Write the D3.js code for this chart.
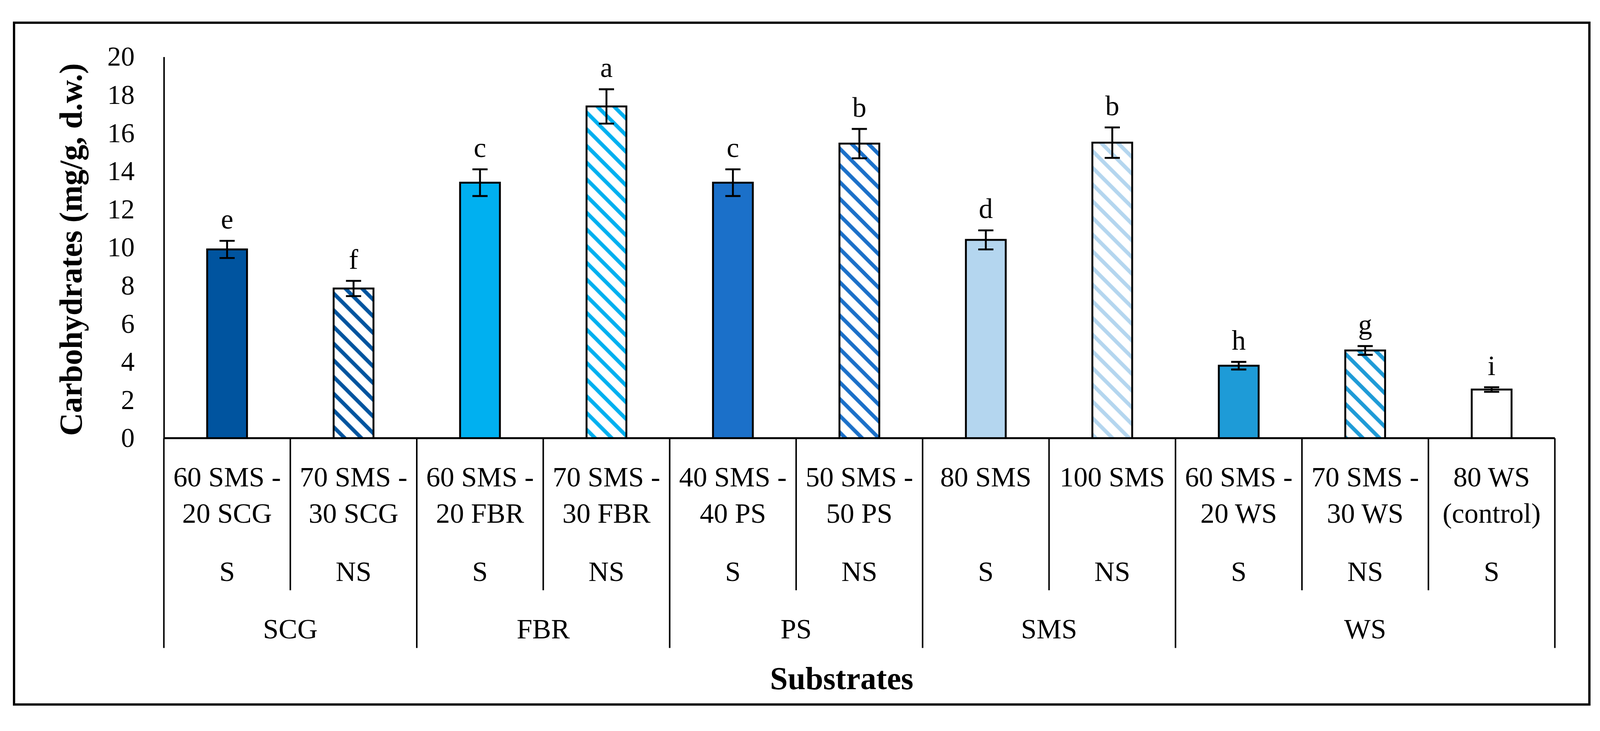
<!DOCTYPE html>
<html>
<head>
<meta charset="utf-8">
<script src="https://cdn.jsdelivr.net/npm/d3@7"></script>
<style>
  html, body { margin: 0; padding: 0; background: #fff; overflow: hidden; width: 100%; height: 100%; }
  svg { display: block; width: 100vw; height: 100vh; }
  text { font-family: "Liberation Serif", "Times New Roman", serif; fill: #000; }
</style>
</head>
<body>
<svg id="chart" viewBox="0 0 4218 1871" preserveAspectRatio="xMidYMid meet"></svg>
<script>
// data
const labelLine1 = ['60 SMS -', '70 SMS -', '60 SMS -', '70 SMS -', '40 SMS -', '50 SMS -', '80 SMS', '100 SMS', '60 SMS -', '70 SMS -', '80 WS'];
const labelLine2 = ['20 SCG', '30 SCG', '20 FBR', '30 FBR', '40 PS', '50 PS', '', '', '20 WS', '30 WS', '(control)'];
const treatment = ['S', 'NS', 'S', 'NS', 'S', 'NS', 'S', 'NS', 'S', 'NS', 'S'];
const groups = ['SCG', 'FBR', 'PS', 'SMS', 'WS'];
const groupSize = [2, 2, 2, 2, 3];
const values = [9.9, 7.85, 13.4, 17.4, 13.4, 15.45, 10.4, 15.5, 3.8, 4.6, 2.55];
const errors = [0.45, 0.4, 0.7, 0.9, 0.7, 0.77, 0.5, 0.8, 0.2, 0.23, 0.12];
const letters = ['e', 'f', 'c', 'a', 'c', 'b', 'd', 'b', 'h', 'g', 'i'];
const yTicks = [0, 2, 4, 6, 8, 10, 12, 14, 16, 18, 20];

// bar colours (style)
const barColors = ['#00549f', '#00549f', '#00b0f0', '#00b0f0', '#1b70c9', '#1b70c9',
                   '#b4d6ef', '#b4d6ef', '#1e9bd7', '#1e9bd7', '#ffffff'];

const svg = d3.select('#chart');
const width = 4218;
const height = 1871;

svg.append('rect').attr('width', width).attr('height', height).attr('fill', '#fff');

//Outer frame
svg.append('rect')
    .attr('x', 37).attr('y', 32)
    .attr('width', 4153).attr('height', 1797)
    .attr('fill', 'none')
    .attr('stroke', '#000')
    .attr('stroke-width', 6);

const margin = {top: 122, left: 432, right: 119, bottom: 744};
const innerW = width - margin.left - margin.right;
const innerH = height - margin.top - margin.bottom;

const idx = d3.range(values.length);

const x = d3.scaleBand()
    .domain(idx)
    .range([0, innerW])
    .padding(0);

const y = d3.scaleLinear()
    .domain([0, 20])
    .range([innerH, 0]);

const barW = x.bandwidth() * 0.315;

//Hatch patterns
const defs = svg.append('defs');
idx.forEach(i => {
    if (treatment[i] !== 'NS') return;
    const p = defs.append('pattern')
        .attr('id', 'hatch' + i)
        .attr('patternUnits', 'userSpaceOnUse')
        .attr('width', 44).attr('height', 44);
    p.append('rect').attr('width', 44).attr('height', 44).attr('fill', '#fff');
    p.append('path')
        .attr('d', 'M-11,33 L11,55 M0,0 L44,44 M33,-11 L55,11')
        .attr('stroke', barColors[i])
        .attr('stroke-width', 10);
});

const g = svg.append('g')
    .attr('transform', `translate(${margin.left},${margin.top})`);

//Y axis
const yAxis = g.append('g')
    .call(d3.axisLeft(y).tickValues(yTicks).tickSize(0).tickPadding(77).tickFormat(d3.format('d')));
yAxis.select('.domain').attr('stroke', '#000').attr('stroke-width', 4);
yAxis.selectAll('text')
    .style('font-family', '"Liberation Serif", serif')
    .style('font-size', '72px')
    .attr('fill', '#000');

//Bars
g.selectAll('rect.bar').data(idx)
    .enter().append('rect')
    .attr('class', 'bar')
    .attr('x', i => x(i) + (x.bandwidth() - barW) / 2)
    .attr('y', i => y(values[i]))
    .attr('width', barW)
    .attr('height', i => innerH - y(values[i]))
    .attr('fill', i => treatment[i] === 'NS' ? `url(#hatch${i})` : barColors[i])
    .attr('stroke', '#000')
    .attr('stroke-width', 5);

//Error bars
const capW = 40;
const eb = g.selectAll('g.err').data(idx).enter().append('g').attr('class', 'err');
eb.append('line')
    .attr('x1', i => x(i) + x.bandwidth() / 2)
    .attr('x2', i => x(i) + x.bandwidth() / 2)
    .attr('y1', i => y(values[i] + errors[i]))
    .attr('y2', i => y(values[i] - errors[i]));
eb.append('line')
    .attr('x1', i => x(i) + x.bandwidth() / 2 - capW / 2)
    .attr('x2', i => x(i) + x.bandwidth() / 2 + capW / 2)
    .attr('y1', i => y(values[i] + errors[i]))
    .attr('y2', i => y(values[i] + errors[i]));
eb.append('line')
    .attr('x1', i => x(i) + x.bandwidth() / 2 - capW / 2)
    .attr('x2', i => x(i) + x.bandwidth() / 2 + capW / 2)
    .attr('y1', i => y(values[i] - errors[i]))
    .attr('y2', i => y(values[i] - errors[i]));
eb.selectAll('line').attr('stroke', '#000').attr('stroke-width', 5);

//Significance letters
g.selectAll('text.letter').data(idx)
    .enter().append('text')
    .attr('class', 'letter')
    .attr('x', i => x(i) + x.bandwidth() / 2)
    .attr('y', i => y(values[i] + errors[i]) - 32)
    .attr('text-anchor', 'middle')
    .style('font-size', '74px')
    .text(i => letters[i]);

//X axis baseline
g.append('line')
    .attr('x1', 0).attr('x2', innerW)
    .attr('y1', innerH).attr('y2', innerH)
    .attr('stroke', '#000').attr('stroke-width', 5);

//Category separators
const subDepth = 401;
const groupDepth = 553;
let groupStarts = [];
let acc = 0;
groupSize.forEach(n => { groupStarts.push(acc); acc += n; });

for (let i = 0; i <= values.length; i++) {
    const xi = i < values.length ? x(i) : innerW;
    const isGroupEdge = groupStarts.includes(i) || i === values.length;
    g.append('line')
        .attr('x1', xi).attr('x2', xi)
        .attr('y1', innerH).attr('y2', innerH + (isGroupEdge ? groupDepth : subDepth))
        .attr('stroke', '#000').attr('stroke-width', 4);
}

//Category labels
const cat = g.selectAll('g.cat').data(idx).enter().append('g')
    .attr('class', 'cat')
    .attr('transform', i => `translate(${x(i) + x.bandwidth() / 2},${innerH})`);
cat.append('text').attr('y', 127).text(i => labelLine1[i]);
cat.append('text').attr('y', 223).text(i => labelLine2[i]);
cat.append('text').attr('y', 376).text(i => treatment[i]);
cat.selectAll('text').attr('text-anchor', 'middle').style('font-size', '74px');

//Group labels
groups.forEach((grp, k) => {
    const s = groupStarts[k];
    const e = s + groupSize[k];
    const cx = (x(s) + (e < values.length ? x(e) : innerW)) / 2;
    g.append('text')
        .attr('x', cx)
        .attr('y', innerH + 528)
        .attr('text-anchor', 'middle')
        .style('font-size', '74px')
        .text(grp);
});

//Axis titles
svg.append('text')
    .attr('x', 2219)
    .attr('y', 1789)
    .attr('text-anchor', 'middle')
    .style('font-size', '84px')
    .style('font-weight', 'bold')
    .text('Substrates');

svg.append('text')
    .attr('transform', 'translate(215,630) rotate(-90)')
    .attr('text-anchor', 'middle')
    .style('font-size', '84px')
    .style('font-weight', 'bold')
    .text('Carbohydrates (mg/g, d.w.)');
</script>
</body>
</html>
